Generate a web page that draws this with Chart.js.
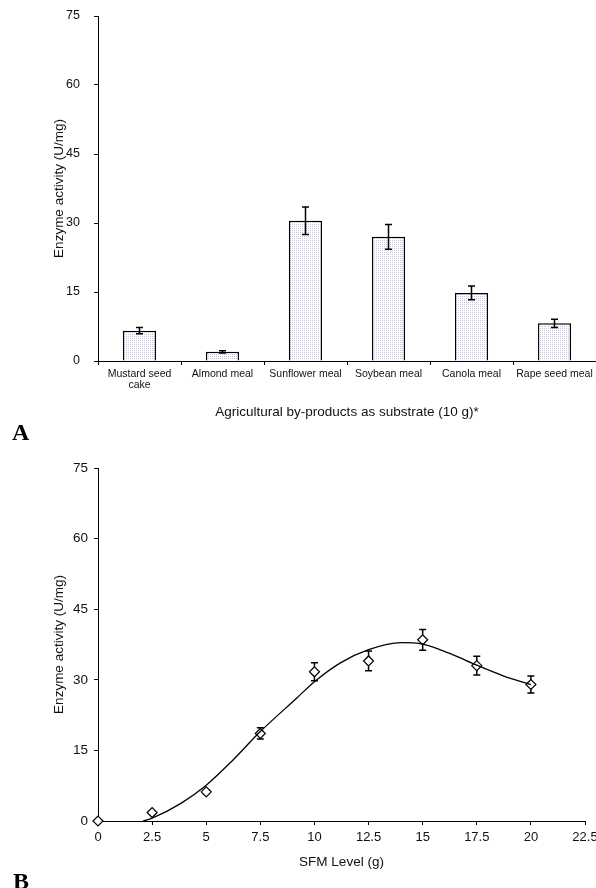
<!DOCTYPE html>
<html>
<head>
<meta charset="utf-8">
<script src="https://cdn.jsdelivr.net/npm/chart.js@4/dist/chart.umd.min.js"></script>
<style>
  html, body { margin: 0; padding: 0; background: #fff; }
  body { width: 596px; height: 888px; position: relative; overflow: hidden; }
  .wrap { position: absolute; left: 0; width: 596px; }
  .wrap canvas { display: block; }
  .lbl { position: absolute; font: bold 24px "Liberation Serif", "Times New Roman", serif; line-height: 24px; color: #000; }
</style>
</head>
<body>
<div class="wrap" style="top:0;height:420px;"><canvas id="chartA" width="596" height="420"></canvas></div>
<div class="wrap" style="top:430px;height:458px;"><canvas id="chartB" width="596" height="458"></canvas></div>
<div class="lbl" style="left:12px;top:420px;">A</div>
<div class="lbl" style="left:13px;top:869px;">B</div>
<script>
// ---------- Data: panel A ----------
const substrates = [["Mustard seed", "cake"], "Almond meal", "Sunflower meal", "Soybean meal", "Canola meal", "Rape seed meal"];
const activityA = [6.6, 2.0, 30.5, 27.0, 14.8, 8.2];
const errorA = [0.7, 0.25, 3.0, 2.7, 1.5, 0.9];

// ---------- Data: panel B ----------
const sfmLevel = [0, 2.5, 5, 7.5, 10, 12.5, 15, 17.5, 20];
const activityB = [0, 1.8, 6.2, 18.6, 31.7, 34.0, 38.5, 33.0, 29.0];
const errorB = [0, 0.3, 0.4, 1.2, 1.9, 2.1, 2.2, 2.0, 1.8];
// fitted curve
const fitX = [2.08, 2.5, 3.85, 5, 6.16, 7.5, 9.2, 10, 11.2, 12.5, 14, 15, 16.25, 17.5, 18.75, 20];
const fitY = [0, 0.6, 3.8, 7.6, 12.6, 19.0, 26.2, 29.6, 33.6, 36.4, 37.9, 37.6, 35.6, 33.1, 30.8, 29.0];

const yTicks = [0, 15, 30, 45, 60, 75];

const FONT = "'Liberation Sans', Arial, sans-serif";
const TXT = '#111';

function makePattern() {
  const c = document.createElement('canvas');
  c.width = 2; c.height = 2;
  const g = c.getContext('2d');
  g.fillStyle = '#ffffff'; g.fillRect(0, 0, 2, 2);
  g.fillStyle = '#c2c2ec'; g.fillRect(0, 0, 1, 1);
  return g.createPattern(c, 'repeat');
}

function drawErrors(chart, opts) {
  const meta = chart.getDatasetMeta(opts.datasetIndex);
  const ds = chart.data.datasets[opts.datasetIndex];
  const ys = chart.scales.y;
  const ctx = chart.ctx;
  ctx.save();
  ctx.strokeStyle = '#000';
  ctx.lineWidth = 1.5;
  meta.data.forEach((el, i) => {
    const e = opts.errors[i];
    if (!e) return;
    const v = typeof ds.data[i] === 'object' ? ds.data[i].y : ds.data[i];
    const x = el.x;
    const yTop = ys.getPixelForValue(v + e);
    const yBot = ys.getPixelForValue(v - e);
    const hw = opts.cap;
    ctx.beginPath();
    ctx.moveTo(x, yTop); ctx.lineTo(x, yBot);
    ctx.moveTo(x - hw, yTop); ctx.lineTo(x + hw, yTop);
    ctx.moveTo(x - hw, yBot); ctx.lineTo(x + hw, yBot);
    ctx.stroke();
  });
  ctx.restore();
}
const errorBarsUnder = { id: 'errorBarsUnder', beforeDatasetsDraw(chart, a, opts) { drawErrors(chart, opts); } };
const errorBarsOver = { id: 'errorBarsOver', afterDatasetsDraw(chart, a, opts) { drawErrors(chart, opts); } };

function yScale(tickSize, tickPad, titlePad) {
  return {
    min: 0, max: 75,
    afterBuildTicks: s => { s.ticks = yTicks.map(v => ({ value: v })); },
    ticks: { font: { family: FONT, size: tickSize }, color: TXT, padding: tickPad },
    grid: { display: true, drawOnChartArea: false, drawTicks: true, tickLength: 4, color: '#000' },
    border: { display: true, color: '#000', width: 1 },
    title: { display: true, text: 'Enzyme activity (U/mg)', font: { family: FONT, size: 13.5 }, color: TXT, padding: { top: titlePad, bottom: 0 } },
    afterFit: s => { s.width = 98; s.paddingTop = 0; s.paddingBottom = 0; }
  };
}

// ---------- Chart A ----------
new Chart(document.getElementById('chartA'), {
  type: 'bar',
  data: {
    labels: substrates,
    datasets: [{
      data: activityA,
      backgroundColor: makePattern(),
      borderColor: '#000',
      borderWidth: 1.5,
      categoryPercentage: 1,
      barPercentage: 0.4
    }]
  },
  options: {
    responsive: false,
    devicePixelRatio: 1,
    animation: false,
    layout: { padding: { top: 16, right: 0, left: 0, bottom: 0 } },
    plugins: {
      legend: { display: false },
      tooltip: { enabled: false },
      errorBarsOver: { datasetIndex: 0, errors: errorA, cap: 3.5 }
    },
    scales: {
      x: {
        offset: true,
        grid: { display: true, offset: true, drawOnChartArea: false, drawTicks: true, tickLength: 4, color: '#000' },
        border: { display: true, color: '#000', width: 1 },
        ticks: { font: { family: FONT, size: 10.5, lineHeight: 1.1 }, color: TXT, padding: 3, maxRotation: 0, autoSkip: false },
        title: { display: true, text: 'Agricultural by-products as substrate (10 g)*', font: { family: FONT, size: 13.5 }, color: TXT, padding: { top: 0, bottom: 0 } },
        afterFit: s => { s.height = 59; s.paddingLeft = 0; s.paddingRight = 0; }
      },
      y: yScale(12.5, 14, 51)
    }
  },
  plugins: [errorBarsOver]
});

// ---------- Chart B ----------
new Chart(document.getElementById('chartB'), {
  type: 'scatter',
  data: {
    datasets: [
      {
        type: 'line',
        data: fitX.map((x, i) => ({ x: x, y: fitY[i] })),
        borderColor: '#000',
        borderWidth: 1.3,
        pointRadius: 0,
        fill: false,
        cubicInterpolationMode: 'monotone',
        order: 0
      },
      {
        data: sfmLevel.map((x, i) => ({ x: x, y: activityB[i] })),
        pointStyle: 'rectRot',
        pointRadius: 5,
        pointBackgroundColor: '#fff',
        pointBorderColor: '#000',
        pointBorderWidth: 1.2,
        showLine: false,
        clip: false,
        order: 1
      }
    ]
  },
  options: {
    responsive: false,
    devicePixelRatio: 1,
    animation: false,
    layout: { padding: { top: 38, right: 11, left: 0, bottom: 0 } },
    plugins: {
      legend: { display: false },
      tooltip: { enabled: false },
      errorBarsUnder: { datasetIndex: 1, errors: errorB, cap: 3.5 }
    },
    scales: {
      x: {
        type: 'linear',
        min: 0, max: 22.5,
        ticks: { stepSize: 2.5, font: { family: FONT, size: 13 }, color: TXT, padding: 5 },
        grid: { display: true, drawOnChartArea: false, drawTicks: true, tickLength: 4, color: '#000' },
        border: { display: true, color: '#000', width: 1 },
        title: { display: true, text: 'SFM Level (g)', font: { family: FONT, size: 13.5 }, color: TXT, padding: { top: 0, bottom: 18 } },
        afterFit: s => { s.height = 67; s.paddingLeft = 0; s.paddingRight = 0; }
      },
      y: yScale(13.5, 6, 51)
    }
  },
  plugins: [errorBarsUnder]
});
</script>
</body>
</html>
